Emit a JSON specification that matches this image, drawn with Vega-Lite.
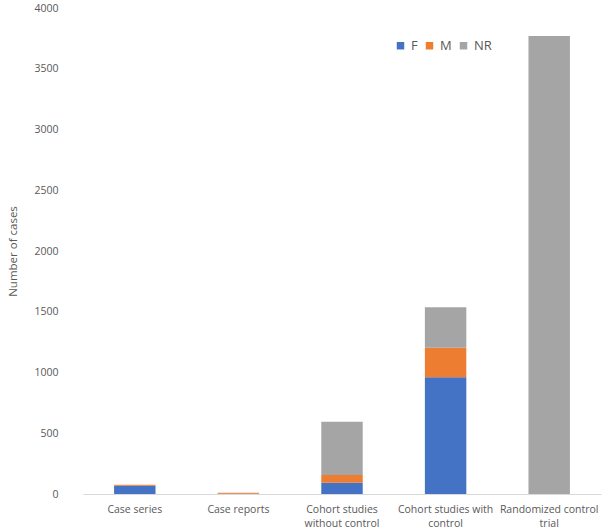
{
  "$schema": "https://vega.github.io/schema/vega-lite/v6.json",
  "autosize": "none",
  "width": 518,
  "height": 486,
  "padding": {"left": 83, "top": 8, "right": 1, "bottom": 37},
  "background": "white",
  "config": {
    "view": {"stroke": null},
    "font": "Open Sans",
    "axis": {"labelFont": "Open Sans", "titleFont": "Open Sans", "labelColor": "#595959", "titleColor": "#595959", "labelFontSize": 10.5, "titleFontSize": 11.5, "titleFontWeight": "normal"}
  },
  "data": {
    "values": [
      {"design": "Case series", "sex": "F", "cases": 68},
      {"design": "Case series", "sex": "M", "cases": 8},
      {"design": "Case series", "sex": "NR", "cases": 0},
      {"design": "Case reports", "sex": "F", "cases": 2},
      {"design": "Case reports", "sex": "M", "cases": 8},
      {"design": "Case reports", "sex": "NR", "cases": 0},
      {"design": "Cohort studies without control", "sex": "F", "cases": 93},
      {"design": "Cohort studies without control", "sex": "M", "cases": 63},
      {"design": "Cohort studies without control", "sex": "NR", "cases": 439},
      {"design": "Cohort studies with control", "sex": "F", "cases": 960},
      {"design": "Cohort studies with control", "sex": "M", "cases": 244},
      {"design": "Cohort studies with control", "sex": "NR", "cases": 333},
      {"design": "Randomized control trial", "sex": "F", "cases": 0},
      {"design": "Randomized control trial", "sex": "M", "cases": 0},
      {"design": "Randomized control trial", "sex": "NR", "cases": 3770}
    ]
  },
  "mark": {"type": "bar"},
  "encoding": {
    "x": {
      "field": "design", "type": "nominal", "sort": null, "title": null,
      "scale": {"paddingInner": 0.6, "paddingOuter": 0.3},
      "axis": {
        "labelAngle": 0, "ticks": false, "domainColor": "#d9d9d9", "labelPadding": 10, "labelLineHeight": 14,
        "labelExpr": "datum.label == 'Cohort studies without control' ? ['Cohort studies','without control'] : datum.label == 'Cohort studies with control' ? ['Cohort studies with','control'] : datum.label == 'Randomized control trial' ? ['Randomized control','trial'] : datum.label"
      }
    },
    "y": {
      "field": "cases", "type": "quantitative", "stack": "zero", "title": "Number of cases",
      "scale": {"domain": [0, 4000]},
      "axis": {"values": [0, 500, 1000, 1500, 2000, 2500, 3000, 3500, 4000], "grid": false, "domain": false, "ticks": false, "labelPadding": 25, "titlePadding": 15, "format": "d"}
    },
    "color": {
      "field": "sex", "type": "nominal", "title": null,
      "scale": {"domain": ["F", "M", "NR"], "range": ["#4472C4", "#ED7D31", "#A5A5A5"]},
      "legend": {"orient": "none", "legendX": 311, "legendY": 31, "direction": "horizontal", "symbolType": "square", "symbolSize": 56, "symbolStrokeWidth": 0, "labelFontSize": 13, "labelColor": "#595959", "labelFont": "Open Sans", "columnPadding": 5, "labelOffset": 4}
    },
    "order": {"field": "sex", "sort": "ascending"}
  }
}
